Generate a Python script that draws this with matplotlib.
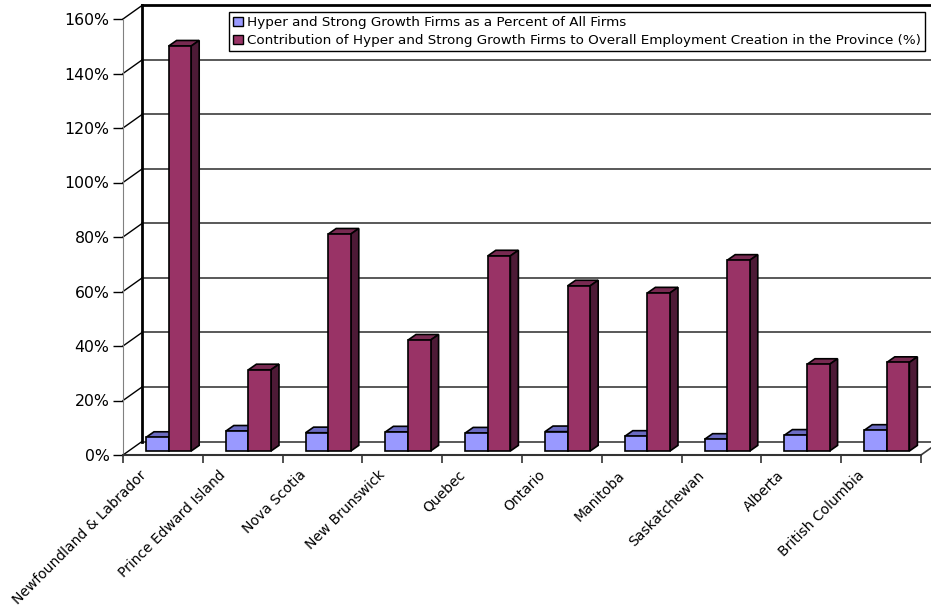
#
# 州別 高成長企業の割合と雇用創出への寄与 (Excel 風の疑似 3D 棒グラフ)
#
import matplotlib
matplotlib.use('Agg')
import matplotlib.pyplot as plt
import matplotlib.transforms as mtransforms
from matplotlib.patches import Polygon, Patch
import numpy as np

#
# データ
#
provinces = ['Newfoundland & Labrador', 'Prince Edward Island', 'Nova Scotia',
             'New Brunswick', 'Quebec', 'Ontario', 'Manitoba', 'Saskatchewan',
             'Alberta', 'British Columbia']
pct_firms = [5.0, 7.3, 6.7, 7.0, 6.6, 7.1, 5.4, 4.3, 5.8, 7.6]
pct_employment = [148.6, 29.8, 79.6, 40.7, 71.6, 60.6, 58.0, 70.0, 31.8, 32.5]
series_names = ['Hyper and Strong Growth Firms as a Percent of All Firms',
                'Contribution of Hyper and Strong Growth Firms to Overall '
                'Employment Creation in the Province (%)']
y_ticks = [0, 20, 40, 60, 80, 100, 120, 140, 160]

#
# 図と軸 (軸の枠 = 手前の面)
#
W, H = 931, 608
fig = plt.figure(figsize=(W / 100, H / 100), dpi=100)
ax = fig.add_axes([123 / W, 1 - 455 / H, (921 - 123) / W, (455 - 19) / H])
n = len(provinces)
ax.set_xlim(0, n)
ax.set_ylim(0, y_ticks[-1])

# ピクセル -> データ単位
p0 = ax.transData.transform((0, 0))
p1 = ax.transData.transform((1, 1))
px_x, px_y = p1 - p0

# 奥行き (ピクセル): 壁, 棒の前面, 棒の厚み
wx, wy = 19 / px_x, 13.5 / px_y
bx, by = 5.7 / px_x, 4.0 / px_y
tx, ty = 8 / px_x, 5.6 / px_y

#
# 奥の壁と目盛線、左の壁、床
#
for v in y_ticks:
    if v == y_ticks[-1]:
        ax.plot([wx, n + wx], [v + wy, v + wy], color='black', lw=2, clip_on=False, zorder=1)
    else:
        ax.plot([wx, n + wx], [v + wy, v + wy], color='#3c3c3c', lw=1.2, clip_on=False, zorder=1)
    ax.plot([0, wx], [v, v + wy], color='black', lw=1, clip_on=False, zorder=1)
ax.plot([wx, wx], [wy, y_ticks[-1] + wy], color='black', lw=2, clip_on=False, zorder=1)
ax.plot([n, n + wx], [0, wy], color='#3c3c3c', lw=1.2, clip_on=False, zorder=1)

#
# 棒 (前面は bar、上面と側面は Polygon)
#
w = 0.283
series = [(pct_firms, '#9999FF', '#6B6BC2', '#4A4A99', -w / 2, 3),
          (pct_employment, '#993366', '#782A51', '#4D1A36', w / 2, 4)]
x = np.arange(n) + 0.5
for vals, c_front, c_top, c_side, off, z in series:
    ax.bar(x + off + bx, vals, width=w, bottom=by, color=c_front,
           edgecolor='black', linewidth=1.2, zorder=z)
    for i, v in enumerate(vals):
        x0 = x[i] + off + bx - w / 2
        x1 = x0 + w
        top = by + v
        ax.add_patch(Polygon([(x0, top), (x1, top), (x1 + tx, top + ty), (x0 + tx, top + ty)],
                             closed=True, facecolor=c_top, edgecolor='black', lw=1.2,
                             zorder=z - 0.1, clip_on=False))
        ax.add_patch(Polygon([(x1, by), (x1, top), (x1 + tx, top + ty), (x1 + tx, by + ty)],
                             closed=True, facecolor=c_side, edgecolor='black', lw=1.2,
                             zorder=z - 0.1, clip_on=False))

#
# 軸
#
for s in ['top', 'right']:
    ax.spines[s].set_visible(False)
ax.spines['left'].set_color('#808080')
ax.spines['bottom'].set_color('#333333')
ax.spines['bottom'].set_linewidth(1.5)
ax.set_yticks(y_ticks, [f'{v}%' for v in y_ticks])
ax.tick_params(axis='y', length=7.2, width=1, pad=2.5, labelsize=11.3, colors='black')
ax.set_xticks(range(n + 1), [''] * (n + 1))
ax.tick_params(axis='x', length=5.8, width=1.2, color='#333333')

label_trans = mtransforms.offset_copy(ax.transData, fig=fig, x=-24, y=-13, units='dots')
for i, name in enumerate(provinces):
    ax.text(x[i], 0, name, rotation=45, rotation_mode='anchor', ha='right', va='top',
            fontsize=10, transform=label_trans)

#
# 凡例
#
handles = [Patch(facecolor=series[0][1], edgecolor='black', lw=1),
           Patch(facecolor=series[1][1], edgecolor='black', lw=1)]
leg = ax.legend(handles, series_names, loc='upper right',
                bbox_to_anchor=(925 / W, 1 - 12 / H), bbox_transform=fig.transFigure,
                fontsize=9.7, frameon=True, fancybox=False, edgecolor='black', framealpha=1,
                handlelength=0.7, handleheight=0.7, handletextpad=0.3,
                labelspacing=0.4, borderpad=0.3, borderaxespad=0)
leg.get_frame().set_linewidth(1.0)
leg.set_zorder(10)

fig.savefig('out.png', dpi=100)
